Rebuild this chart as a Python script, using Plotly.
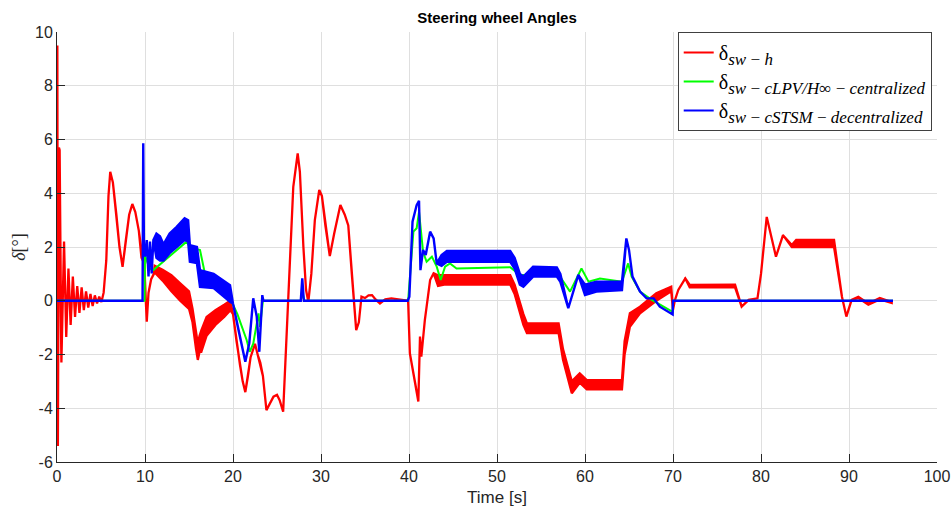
import plotly.graph_objects as go

# ---------------- data ----------------
# delta_sw-h (driver): time, upper envelope, lower envelope
red_t = [0, 0.04, 0.1, 0.22, 0.3, 0.5, 0.8, 1.05, 1.3, 1.55, 1.8, 2.05, 2.3, 2.55, 2.8, 3.05, 3.3, 3.55, 3.8,
         4.05, 4.3, 4.55, 4.8, 5.05, 5.3, 5.6, 5.85, 6.05, 6.35, 6.75, 7.1, 7.45, 7.8, 8.2, 8.56, 8.9, 9.3, 9.6,
         9.9, 10.2, 10.4, 10.7, 11.0, 11.1, 12.0, 13.0, 14.0, 15.0, 15.4, 15.8, 16.0, 16.2, 16.4, 17.0, 18.0,
         19.0, 19.7, 20.0, 20.4, 20.8, 21.1, 21.4, 21.7, 22.0, 22.5, 22.8, 23.1, 23.4, 23.8, 24.2, 24.6, 25.0,
         25.3, 25.7, 26.0, 26.3, 26.85, 27.35, 27.6, 28.0, 28.3, 28.56, 28.9, 29.3, 29.8, 30.1, 30.5, 31.0,
         31.5, 32.2, 32.7, 33.1, 33.5, 34.0, 34.3, 34.6, 35.0, 35.4, 35.8, 36.2, 36.7, 37.3, 38.0, 39.0, 39.9,
         40.1, 40.3, 40.5, 40.7, 41.06, 41.25, 41.4, 41.8, 42.4, 42.8, 43.3, 44.0, 48.0, 51.5, 52.0, 53.0,
         53.4, 57.0, 57.5, 58.5, 59.4, 60.2, 64.2, 64.5, 65.1, 66.25, 68.1, 69.8, 70.0, 70.2, 70.6, 71.4, 71.9,
         77.05, 77.8, 78.6, 79.6, 80.0, 80.65, 81.7, 82.5, 83.5, 84.0, 88.3, 89.2, 89.7, 90.3, 91.06, 92.2,
         93.5, 94.85]
red_hi = [0, 9.5, -5.4, 5.7, 5.6, -2.3, 2.2, -1.35, 1.2, -0.9, 0.9, -0.6, 0.55, -0.45, 0.5, -0.35, 0.35, -0.25,
          0.25, -0.2, 0.2, -0.1, 0.15, -0.05, 0.3, 1.5, 3.9, 4.8, 4.4, 3.2, 2.0, 1.26, 2.2, 3.2, 3.6, 3.3, 2.6,
          1.9, 1.5, -0.78, 0.3, 0.8, 1.0, 1.3, 1.15, 0.95, 0.65, 0.35, -0.3, -1.2, -1.6, -1.3, -1.1, -0.6, -0.35,
          -0.15, 0.0, -0.5, -1.5, -2.4, -3.0, -3.4, -2.8, -2.1, -1.6, -2.0, -2.3, -2.8, -4.07, -3.8, -3.57, -3.5,
          -3.7, -4.13, -2.0, 0.15, 4.24, 5.48, 4.8, 2.0, 0.4, -0.04, 1.0, 3.0, 4.12, 3.9, 2.8, 1.66, 2.5, 3.56,
          3.2, 2.8, 1.0, -1.09, -0.8, 0.15, 0.1, 0.2, 0.21, 0.05, -0.1, 0.05, 0.09, 0.05, 0.0, -1.96, -2.3, -2.7,
          -3.06, -3.75, -1.33, -2.08, -0.72, 0.77, 1.02, 0.95, 0.95, 0.95, 0.95, 0.6, -0.5, -0.84, -0.84, -1.8,
          -3.0, -2.7, -2.95, -2.95, -1.5, -0.46, -0.22, 0.28, 0.52, -0.34, 0.0, 0.4, 0.83, 0.59, 0.6, -0.22,
          0.03, 0.09, 1.0, 3.12, 1.64, 2.44, 2.07, 2.26, 2.26, 0.15, -0.59, 0.03, 0.15, -0.1, 0.1, -0.05]
red_lo = [0, 9.5, -5.4, 5.7, 5.6, -2.3, 2.2, -1.35, 1.2, -0.9, 0.9, -0.6, 0.55, -0.45, 0.5, -0.35, 0.35, -0.25,
          0.25, -0.2, 0.2, -0.1, 0.15, -0.05, 0.3, 1.5, 3.9, 4.8, 4.4, 3.2, 2.0, 1.26, 2.2, 3.2, 3.6, 3.3, 2.6,
          1.6, 1.4, -0.78, 0.3, 0.8, 1.0, 1.05, 0.75, 0.35, 0.0, -0.3, -0.8, -1.8, -2.2, -1.9, -1.9, -1.3, -0.9,
          -0.6, -0.35, -0.5, -1.5, -2.4, -3.0, -3.4, -2.8, -2.1, -1.6, -2.0, -2.3, -2.8, -4.07, -3.8, -3.57, -3.5,
          -3.7, -4.13, -2.0, 0.15, 4.24, 5.48, 4.8, 2.0, 0.4, -0.04, 1.0, 3.0, 4.12, 3.9, 2.8, 1.66, 2.5, 3.56,
          3.2, 2.8, 1.0, -1.09, -0.8, 0.15, 0.1, 0.2, 0.21, 0.05, -0.1, 0.05, 0.09, 0.05, 0.0, -1.96, -2.3, -2.7,
          -3.06, -3.75, -1.33, -2.08, -0.72, 0.77, 1.02, 0.55, 0.6, 0.6, 0.6, 0.25, -0.9, -1.2, -1.2, -2.2,
          -3.44, -3.05, -3.3, -3.3, -2.0, -0.97, -0.47, 0.0, 0.35, -0.34, 0.0, 0.4, 0.83, 0.5, 0.5, -0.22,
          0.03, 0.09, 1.0, 3.12, 1.64, 2.44, 2.0, 2.0, 2.0, 0.15, -0.59, 0.03, 0.1, -0.15, 0.05, -0.08]

# delta_sw-c LPV/Hinf centralized
green_t = [0, 9.95, 10.0, 10.5, 10.95, 14.73, 15.1, 16.25, 17.0, 19.66, 20.5, 21.55, 21.9, 22.3, 22.9, 23.07,
           23.4, 27.7, 27.9, 28.1, 39.9, 40.1, 40.5, 40.87, 41.14, 41.6, 42.0, 42.6, 43.15, 43.6, 44.1, 44.66,
           45.4, 51.5, 52.6, 54.1, 57.0, 58.3, 59.6, 60.4, 61.7, 64.2, 64.9, 65.3, 66.25, 67.5, 68.9, 69.96,
           70.0, 95.0]
green_y = [0, 0, 1.7, 1.2, 1.14, 2.2, 2.0, 1.89, 0.71, 0.1, -0.5, -1.46, -1.9, -1.6, -0.47, -0.97, 0, 0, 0.3,
           0, 0, 0.77, 2.57, 2.7, 3.31, 1.82, 1.45, 1.64, 1.27, 0.77, 1.27, 1.39, 1.2, 1.25, 0.96, 0.96, 0.98,
           0.34, 1.2, 0.71, 0.83, 0.71, 1.39, 0.9, 0.34, 0.05, -0.22, -0.41, 0, 0]

# delta_sw-c STSM decentralized: time, upper envelope, lower envelope
blue_t = [0, 9.72, 9.8, 9.88, 10.0, 10.2, 10.4, 10.57, 10.76, 10.95, 11.3, 11.7, 12.1, 12.8, 13.6, 14.5, 14.9,
          15.1, 15.9, 16.25, 17.8, 19.66, 20.0, 20.5, 21.0, 21.4, 21.85, 22.3, 22.7, 22.99, 23.33, 23.45, 27.7,
          27.87, 28.05, 39.85, 40.04, 40.4, 40.87, 41.14, 41.3, 41.6, 41.9, 42.4, 42.8, 43.15, 43.7, 44.3,
          51.5, 52.0, 52.6, 53.0, 54.1, 56.8, 57.2, 58.1, 59.24, 60.0, 61.3, 64.2, 64.7, 65.0, 65.4, 66.25,
          67.0, 67.8, 68.5, 69.96, 70.0, 95.0]
blue_hi = [0, 0, 5.86, 2.0, 1.64, 2.26, 0.9, 2.2, 1.02, 2.26, 2.5, 2.4, 2.1, 2.5, 2.75, 3.07, 3.0, 2.07, 2.0,
           1.14, 1.0, 0.58, -0.1, -0.9, -1.7, -2.27, -1.58, 0.09, -0.6, -1.9, 0.21, 0, 0, 0.83, 0, 0, 0.15,
           2.94, 3.56, 3.72, 1.14, 1.89, 1.7, 2.57, 2.32, 1.39, 1.7, 1.85, 1.85, 1.6, 1.0, 0.9, 1.27, 1.24, 1.0,
           -0.28, 0.96, 0.6, 0.71, 0.71, 2.32, 1.89, 0.9, 0.34, 0.09, 0.09, -0.22, -0.51, 0, 0]
blue_lo = [0, 0, 5.86, 2.0, 1.64, 2.26, 0.9, 2.2, 1.02, 2.26, 1.6, 1.5, 1.5, 1.77, 2.0, 2.26, 2.2, 1.45, 1.4,
           0.52, 0.47, -0.04, -0.1, -0.9, -1.7, -2.27, -1.58, 0.09, -0.6, -1.9, 0.21, 0, 0, 0.83, 0, 0, 0.15,
           2.94, 3.56, 3.72, 1.14, 1.89, 1.7, 2.57, 2.32, 1.39, 1.3, 1.45, 1.45, 1.2, 0.6, 0.52, 0.9, 0.9, 0.7,
           -0.28, 0.96, 0.21, 0.34, 0.4, 2.32, 1.89, 0.9, 0.34, 0.09, 0.09, -0.22, -0.51, 0, 0]

legend_names = [
    "δ<sub><span style='font-size:17px'><i>sw\u2009−\u2009h</i></span></sub>",
    "δ<sub><span style='font-size:17px'><i>sw\u2009−\u2009c</i><i>LPV/H</i>∞<i>\u2009−\u2009centralized</i></span></sub>",
    "δ<sub><span style='font-size:17px'><i>sw\u2009−\u2009c</i><i>STSM\u2009−\u2009decentralized</i></span></sub>",
]
x_ticks = list(range(0, 101, 10))
y_ticks = list(range(-6, 11, 2))

# ---------------- figure ----------------
RED, GREEN, BLUE = "#ff0000", "#00ff00", "#0000ff"

fig = go.Figure()


def band(t, hi, lo, color, width):
    fig.add_trace(go.Scatter(
        x=list(t) + list(t)[::-1], y=list(hi) + list(lo)[::-1],
        mode="lines", fill="toself", fillcolor=color,
        line=dict(color=color, width=width), showlegend=False, hoverinfo="skip"))


band(red_t, red_hi, red_lo, RED, 2.3)
fig.add_trace(go.Scatter(x=green_t, y=green_y, mode="lines", line=dict(color=GREEN, width=2),
                         showlegend=False, hoverinfo="skip"))
band(blue_t, blue_hi, blue_lo, BLUE, 2.4)

for name, col in zip(legend_names, [RED, GREEN, BLUE]):
    fig.add_trace(go.Scatter(x=[None], y=[None], mode="lines", name=name,
                             line=dict(color=col, width=2)))

axis_common = dict(
    showgrid=True, gridcolor="#dfdfdf", gridwidth=1,
    showline=True, linecolor="#262626", linewidth=1,
    ticks="inside", ticklen=8, tickcolor="#262626",
    tickfont=dict(family="Liberation Sans, Arial", size=16, color="#262626"),
    zeroline=False, mirror=False,
)

fig.update_layout(
    width=952, height=515,
    margin=dict(l=57, r=15, t=32, b=53),
    paper_bgcolor="white", plot_bgcolor="white",
    title=dict(text="<b>Steering wheel Angles</b>", x=(57 + 937) / 2 / 952, xanchor="center",
               y=1 - 18 / 515, yanchor="middle", yref="container",
               font=dict(family="Liberation Sans, Arial", size=15, color="black")),
    xaxis=dict(range=[0, 100], tickvals=x_ticks, ticktext=[str(v) for v in x_ticks],
               title=dict(text="Time [s]", standoff=6,
                          font=dict(family="Liberation Sans, Arial", size=17, color="#262626")),
               **axis_common),
    yaxis=dict(range=[-6, 10], tickvals=y_ticks, ticktext=[str(v) for v in y_ticks],
               title=dict(text="<i>δ</i>[°]", standoff=4,
                          font=dict(family="Liberation Serif, serif", size=18, color="#262626")),
               **axis_common),
    legend=dict(x=0.994, y=1, xanchor="right", yanchor="top", bgcolor="white",
                bordercolor="#404040", borderwidth=1, itemwidth=30, tracegroupgap=0,
                valign="middle",
                font=dict(family="Liberation Serif, DejaVu Serif, serif", size=20, color="black")),
    showlegend=True,
)
fig.update_xaxes(automargin=False)
fig.update_yaxes(automargin=False)

fig.write_html("out.html", config={"displayModeBar": False},
               post_script="document.body.style.margin='0';document.body.style.padding='0';")
